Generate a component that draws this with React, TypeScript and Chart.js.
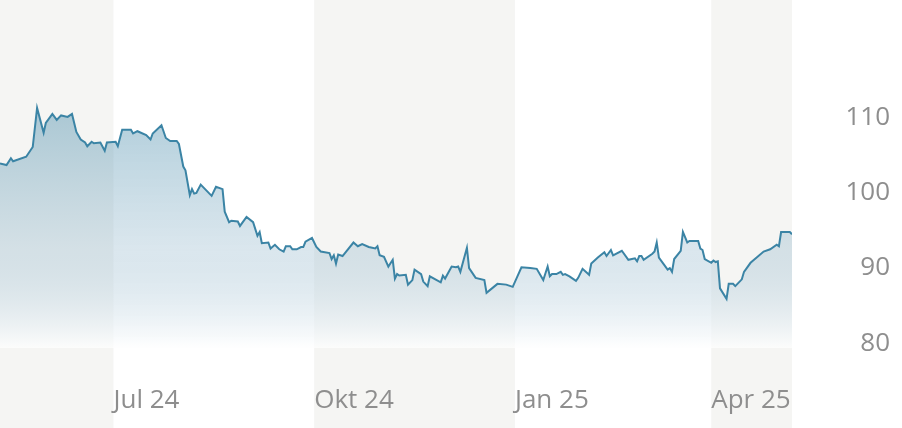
import React, { useEffect, useRef } from "react";
import { Chart, registerables } from "chart.js";

Chart.register(...registerables);

const START_DATE = "2024-05-10";
const END_DATE = "2025-05-08";

// trading-day offsets (days after START_DATE) and closing values
const dayOffsets = [
  0, 3, 5, 6, 12, 15, 17, 20, 21, 24, 26, 28, 31, 33, 35, 37, 39, 40, 42, 43,
  46, 48, 49, 53, 54, 56, 60, 61, 63, 67, 69, 70, 74, 76, 78, 81, 82, 84, 85, 87,
  88, 89, 90, 92, 94, 97, 99, 102, 103, 105, 106, 109, 110, 113, 116, 118, 119, 120, 123, 124,
  126, 128, 130, 131, 133, 134, 136, 138, 139, 140, 143, 145, 147, 151, 152, 153, 154, 155, 157, 162,
  164, 166, 169, 172, 173, 174, 176, 178, 180, 181, 182, 183, 186, 187, 189, 190, 193, 194, 196, 197,
  202, 203, 204, 207, 209, 210, 211, 214, 215, 218, 222, 223, 228, 232, 235, 239, 243, 246, 249, 251,
  252, 253, 255, 257, 258, 259, 261, 264, 265, 267, 270, 271, 274, 277, 278, 280, 281, 285, 288, 291,
  292, 293, 294, 295, 299, 300, 301, 302, 304, 306, 307, 308, 309, 312, 313, 315, 316, 320, 321, 322,
  323, 326, 327, 328, 329, 330, 333, 334, 336, 337, 340, 341, 344, 350, 353, 356, 357, 358, 362, 363,
];

const prices = [
  103.9, 103.7, 104.6, 104.2, 104.8, 106.1, 111.3, 108.0, 109.3, 110.5, 109.7, 110.3, 110.1, 110.5, 108.1, 107.1, 106.7, 106.2, 106.8, 106.6,
  106.7, 105.6, 106.7, 106.8, 106.2, 108.4, 108.4, 107.9, 108.2, 107.7, 107.1, 107.9, 109.0, 107.3, 106.9, 106.9, 106.5, 103.5, 103.0, 99.7,
  100.5, 99.9, 100.0, 101.1, 100.5, 99.6, 100.8, 100.5, 97.5, 96.1, 96.3, 96.2, 95.6, 96.8, 96.1, 94.3, 94.8, 93.3, 93.4, 92.6,
  93.1, 92.5, 92.2, 92.9, 92.9, 92.5, 92.5, 92.8, 92.8, 93.5, 94.0, 92.8, 92.2, 92.0, 91.2, 91.7, 90.6, 91.8, 91.6, 93.4,
  92.9, 93.2, 92.8, 92.6, 92.9, 91.7, 91.5, 90.2, 91.1, 88.6, 89.2, 89.0, 89.1, 87.8, 88.4, 89.8, 89.2, 88.2, 87.6, 88.9,
  88.1, 89.0, 88.6, 90.2, 90.1, 90.2, 89.5, 92.7, 90.0, 88.7, 88.4, 86.7, 87.9, 87.8, 87.5, 90.1, 90.0, 89.9, 88.4, 90.2,
  88.9, 89.2, 89.2, 89.5, 89.1, 89.2, 88.9, 88.3, 88.7, 89.9, 89.1, 90.6, 91.4, 92.1, 91.6, 92.4, 91.7, 92.3, 91.1, 91.3,
  90.9, 91.6, 91.6, 91.1, 91.9, 92.2, 93.4, 91.4, 90.6, 89.8, 90.0, 89.5, 91.2, 92.3, 94.8, 93.4, 93.6, 93.6, 92.6, 92.4,
  91.2, 90.7, 91.0, 90.8, 90.9, 87.3, 85.9, 87.9, 87.9, 87.6, 88.5, 89.5, 90.7, 92.2, 92.5, 93.1, 92.9, 94.8, 94.8, 94.5,
];

const quarterStarts = ["2024-07-01", "2024-10-01", "2025-01-01", "2025-04-01"];
const quarterLabels = ["Jul 24", "Okt 24", "Jan 25", "Apr 25"];
const shadedRanges = [
  ["2024-05-10", "2024-07-01"],
  ["2024-10-01", "2025-01-01"],
  ["2025-04-01", "2025-05-08"],
];
const yTickValues = [80, 90, 100, 110];
const yMin = 79.37;
const yMax = 125.65;

const dayOf = (s: string) => (Date.parse(s) - Date.parse(START_DATE)) / 86400000;

const LINE = "#3b84a5";
const TEXT = "#8e8e8e";
const BAND = "#f5f5f3";
const FONT = { family: "'Open Sans'", size: 26, weight: 400 as any };

const bandsPlugin = {
  id: "bands",
  beforeDraw(chart: any) {
    const { ctx, chartArea, scales } = chart;
    const x = scales.x;
    ctx.save();
    ctx.fillStyle = BAND;
    for (const [a, b] of shadedRanges) {
      const x0 = Math.max(chartArea.left, x.getPixelForValue(dayOf(a)));
      const x1 = Math.min(chartArea.right, x.getPixelForValue(dayOf(b)));
      ctx.fillRect(x0, 0, x1 - x0, chart.height);
    }
    ctx.restore();
  },
};

export default function App() {
  const ref = useRef<HTMLCanvasElement | null>(null);

  useEffect(() => {
    const prevMargin = document.body.style.margin;
    document.body.style.margin = "0";
    const canvas = ref.current!;
    const points = dayOffsets.map((d, i) => ({ x: d, y: prices[i] }));
    const tickDays = quarterStarts.map(dayOf);

    const chart = new Chart(canvas, {
      type: "line",
      data: {
        datasets: [
          {
            data: points,
            borderColor: LINE,
            borderWidth: 2,
            pointRadius: 0,
            tension: 0,
            fill: "start",
            backgroundColor: (c: any) => {
              const area = c.chart.chartArea;
              if (!area) return "rgba(59,132,165,0.3)";
              const g = c.chart.ctx.createLinearGradient(0, area.top + 100, 0, area.bottom);
              g.addColorStop(0, "rgba(59,132,165,0.42)");
              g.addColorStop(0.6, "rgba(150,185,205,0.35)");
              g.addColorStop(1, "rgba(255,255,255,0.7)");
              return g;
            },
          },
        ],
      },
      options: {
        responsive: false,
        animation: false,
        events: [],
        layout: { padding: { left: 0, top: 0, right: 12, bottom: 0 } },
        plugins: { legend: { display: false }, tooltip: { enabled: false } },
        scales: {
          x: {
            type: "linear",
            min: 0,
            max: dayOf(END_DATE),
            grid: { display: false, drawTicks: false },
            border: { display: false },
            afterBuildTicks: (scale: any) => {
              scale.ticks = tickDays.map((v) => ({ value: v }));
            },
            afterFit: (scale: any) => {
              scale.height = 80;
              scale.paddingLeft = 0;
              scale.paddingRight = 0;
            },
            ticks: {
              autoSkip: false,
              maxRotation: 0,
              align: "start",
              padding: 37,
              color: TEXT,
              font: FONT,
              callback: (v: any) => {
                const i = tickDays.indexOf(Number(v));
                return i >= 0 ? quarterLabels[i] : "";
              },
            },
          },
          y: {
            type: "linear",
            position: "right",
            min: yMin,
            max: yMax,
            grid: { display: false, drawTicks: false },
            border: { display: false },
            afterBuildTicks: (scale: any) => {
              scale.ticks = yTickValues.map((v) => ({ value: v }));
            },
            afterFit: (scale: any) => {
              scale.width = 98;
              scale.paddingTop = 0;
              scale.paddingBottom = 0;
            },
            ticks: {
              crossAlign: "far",
              color: TEXT,
              font: FONT,
              callback: (v: any) => String(v),
            },
          },
        },
      },
      plugins: [bandsPlugin],
    } as any);

    return () => {
      chart.destroy();
      document.body.style.margin = prevMargin;
    };
  }, []);

  return (
    <div style={{ position: "absolute", left: 0, top: 0, width: 902, height: 428 }}>
      <canvas ref={ref} width={902} height={428} />
    </div>
  );
}
